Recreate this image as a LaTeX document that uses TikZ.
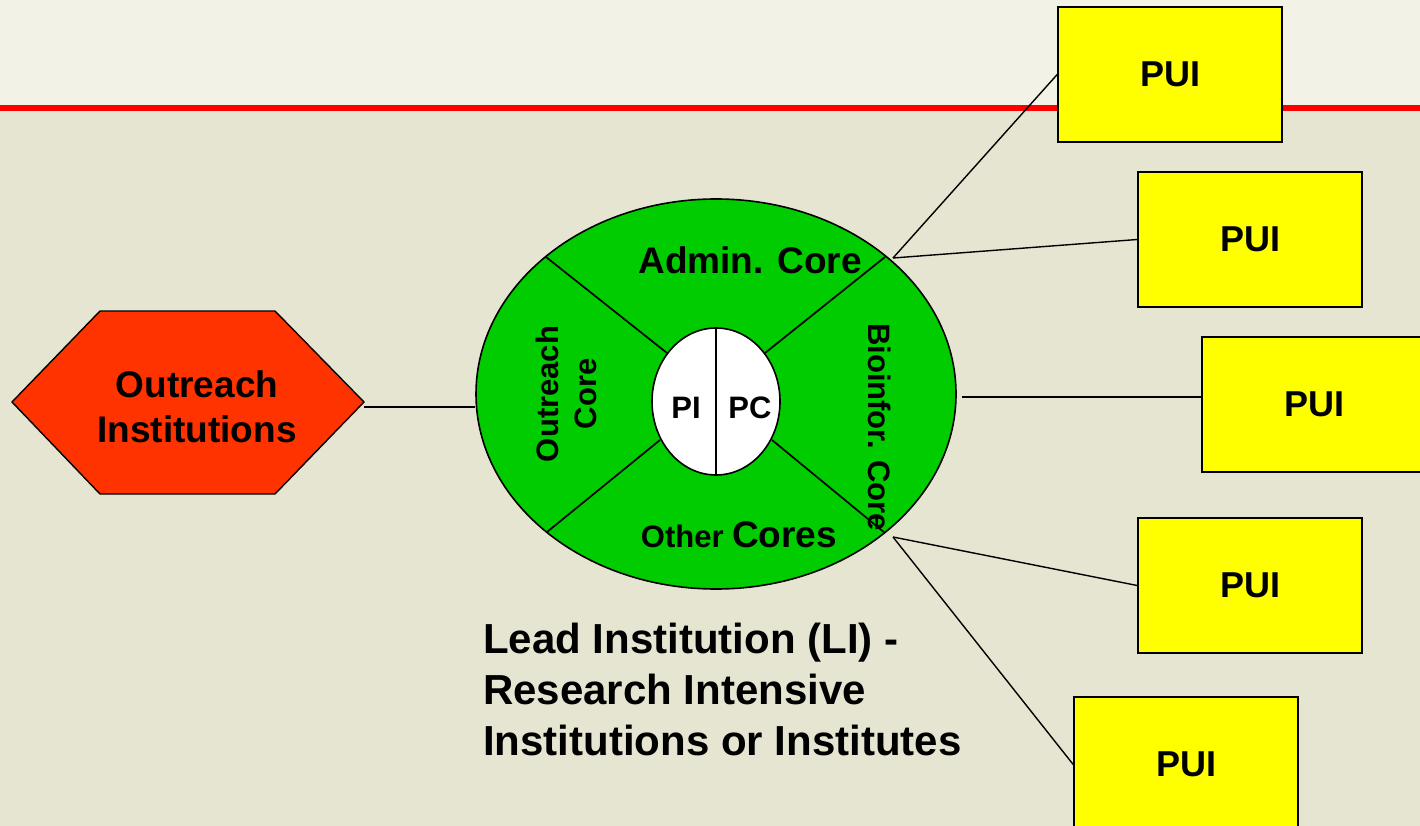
\documentclass[tikz,border=0pt]{standalone}
\usepackage{fontspec}
\setmainfont{Liberation Sans}
\usetikzlibrary{shapes.geometric}
\definecolor{bgtop}{RGB}{242,242,230}
\definecolor{bgmain}{RGB}{230,229,209}
\definecolor{redline}{RGB}{255,0,0}
\definecolor{coregreen}{RGB}{0,204,0}
\definecolor{hexred}{RGB}{255,51,0}
\definecolor{puiyellow}{RGB}{255,255,0}
\newcommand\myfs[2]{\fontsize{#1}{#2}\selectfont\bfseries}
\tikzset{
  puibox/.style={draw=black, line width=1.6pt, fill=puiyellow, minimum width=224pt, minimum height=135pt, inner sep=0pt, font=\myfs{36}{40}},
  conn/.style={draw=black, line width=1.4pt},
  divider/.style={draw=black, line width=1.7pt},
  lbl/.style={inner sep=0pt, text=black},
}
\begin{document}
\begin{tikzpicture}[x=1pt,y=-1pt]
\clip (0,0) rectangle (1420,826);
% background
\fill[bgmain] (0,0) rectangle (1420,826);
\fill[bgtop] (0,0) rectangle (1420,105);
\fill[redline] (0,105) rectangle (1420,111.5);

% hexagon
\draw[fill=hexred, line width=1.4pt] (12,402) -- (100,311) -- (275,311) -- (364,402) -- (275,494) -- (100,494) -- cycle;
\node[lbl, align=center, font=\myfs{37}{45}] (hex) at (197,407) {Outreach\\Institutions};
\coordinate (hexR) at (364,407);

% lead institution ellipse
\node[ellipse, draw=black, line width=1.6pt, fill=coregreen, minimum width=480pt, minimum height=390pt, inner sep=0pt] (LI) at (716,394) {};
\draw[divider] (546,257) -- (667,353);
\draw[divider] (885,257) -- (765,353);
\draw[divider] (547,532) -- (660,440);
\draw[divider] (885,533) -- (772,440);
\node[ellipse, draw=black, line width=1.6pt, fill=white, minimum width=128pt, minimum height=147pt, inner sep=0pt] (core) at (716,401.5) {};
\draw[divider] (core.north) -- (core.south);
\node[lbl, anchor=base, font=\myfs{31}{34}] (pi) at (686,418) {PI};
\node[lbl, anchor=base, font=\myfs{31}{34}] (pc) at (750,418) {PC};

\node[lbl, font=\myfs{37}{42}] (admin) at (750,260) {Admin. Core};
\node[lbl, anchor=base, font=\myfs{37}{42}] (other) at (739,547) {{\myfs{31}{36}Other }Cores};
\node[lbl, rotate=90, align=center, font=\myfs{31}{38}] (outcore) at (566,394) {Outreach\\Core};
\node[lbl, rotate=-90, font=\myfs{31}{36}] (bio) at (880,427) {Bioinfor. Core};

\node[lbl, anchor=base west] (lead) at (483,653) {\myfs{42}{51}\begin{tabular}[t]{@{}l@{}}Lead Institution (LI) -\\Research Intensive\\Institutions or Institutes\end{tabular}};

% PUI boxes
\node[puibox] (pui1) at (1170,74.5) {PUI};
\node[puibox] (pui2) at (1250,239.5) {PUI};
\node[puibox] (pui3) at (1314,404.5) {PUI};
\node[puibox] (pui4) at (1250,585.5) {PUI};
\node[puibox] (pui5) at (1186,764.5) {PUI};

% connectors
\coordinate (c1) at (893,258);
\coordinate (c3) at (962,397);
\coordinate (c4) at (893,537);
\draw[conn] (hexR) -- (hexR -| LI.west);
\draw[conn] (c1) -- (pui1.west);
\draw[conn] (c1) -- (pui2.west);
\draw[conn] (c3) -- (c3 -| pui3.west);
\draw[conn] (c4) -- (pui4.west);
\draw[conn] (c4) -- (pui5.west);
\end{tikzpicture}
\end{document}
